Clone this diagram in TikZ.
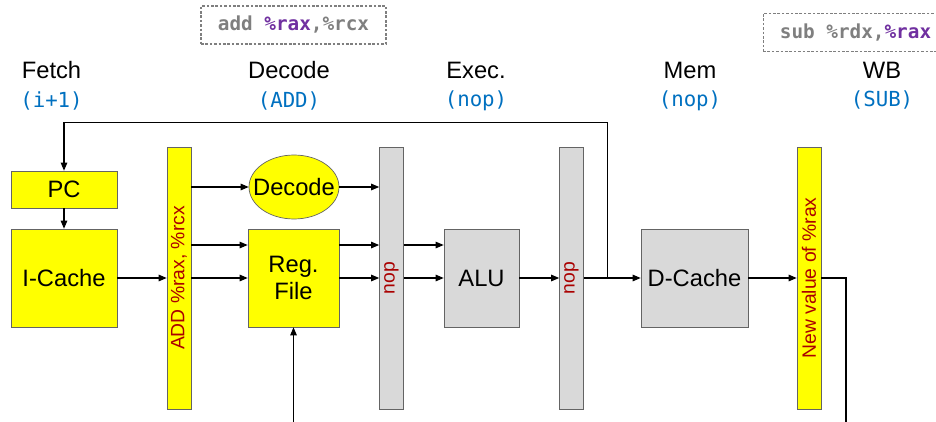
\documentclass[tikz,border=0pt]{standalone}
\usepackage{fontspec}
\setmainfont{Liberation Sans}
\newfontfamily\codefont{DejaVu Sans Mono}
\usetikzlibrary{positioning,arrows.meta,shapes.geometric,calc}

\definecolor{unityellow}{RGB}{255,255,0}
\definecolor{unitgray}{RGB}{217,217,217}
\definecolor{edgegray}{RGB}{100,100,100}
\definecolor{latchred}{RGB}{170,0,0}
\definecolor{opblue}{RGB}{0,112,192}
\definecolor{insngray}{RGB}{127,127,127}
\definecolor{insnpurple}{RGB}{112,48,160}

\begin{document}
\begin{tikzpicture}[
    x=0.02cm, y=-0.02cm,
    >={Triangle[length=1.6mm,width=1.3mm]},
    line width=0.6pt,
    every node/.style={font=\fontsize{13.5}{15}\selectfont},
    unit/.style ={draw=edgegray, thin, fill=unityellow, align=center, inner sep=0pt},
    gunit/.style={draw=edgegray, thin, fill=unitgray, align=center, inner sep=0pt},
    latch/.style={draw=edgegray, thin, minimum width=4.8mm, minimum height=52.4mm,
                  inner sep=0pt, text=latchred, font=\fontsize{11}{13}\selectfont},
    op/.style   ={text=opblue, font=\codefont\fontsize{11.8}{13}\selectfont},
    insn/.style ={draw=insngray, dash pattern=on 1.5pt off 1pt, minimum width=37mm,
                  minimum height=7.6mm, text=insngray,
                  font=\codefont\bfseries\fontsize{11}{13}\selectfont},
]
\useasboundingbox (0,0) rectangle (936,422);

% instructions in flight
\node[insn] (insnD) at (293.5,25)   {add \textcolor{insnpurple}{\%rax},\%rcx};
\node[insn] (insnW) at (855.5,32.5) {sub \%rdx,\textcolor{insnpurple}{\%rax}};

% stage headings
\node                        (fetch)   at (51.5,70) {Fetch};
\node[op, below=0mm of fetch] (fetchop)            {(i+1)};
\node                        (decode)  at (289,70)  {Decode};
\node[op, below=0mm of decode] (decodeop)          {(ADD)};
\node                        (exec)    at (476,70)  {Exec.};
\node[op, below=0mm of exec] (execop)              {(nop)};
\node                        (mem)     at (690,70)  {Mem};
\node[op, below=0mm of mem]  (memop)               {(nop)};
\node                        (wb)      at (882,70)  {WB};
\node[op, below=0mm of wb]   (wbop)                {(SUB)};

% datapath
\node[unit, minimum width=21.2mm, minimum height=7.4mm]  (pc)     at (64,189.5)  {PC};
\node[unit, minimum width=21.2mm, minimum height=19.6mm] (icache) at (64,278)    {I-Cache};
\node[latch, fill=unityellow] (ifid)  at (179,278)   {\rotatebox{90}{ADD \%rax, \%rcx}};
\node[unit, ellipse, minimum width=18mm, minimum height=12.8mm] (dec) at (294,187) {};
\node (dectext) at (dec) {Decode};
\node[unit, minimum width=18.2mm, minimum height=19.6mm] (rf)     at (293.5,278) {Reg.\\File};
\node[latch, fill=unitgray]   (idex)  at (391.5,278) {\rotatebox{90}{nop}};
\node[gunit, minimum width=15mm, minimum height=19.6mm]  (alu)    at (481.5,278) {ALU};
\node[latch, fill=unitgray]   (exmem) at (571.5,278) {\rotatebox{90}{nop}};
\node[gunit, minimum width=21.4mm, minimum height=19.6mm] (dc)    at (694.5,278) {D-Cache};
\node[latch, fill=unityellow] (memwb) at (809,278)   {\rotatebox{90}{New value of \%rax}};

\coordinate (tap)   at ($(exmem.east)!0.42!(dc.west)$);
\coordinate (wbout) at (846,422);
\coordinate (wbin)  at (293.5,422);

\draw[->] (pc.south) -- (icache.north);
\draw[->] (icache) -- (ifid);
\draw[->] (ifid.east |- dec) -- (dec);
\draw[->] (dec) -- (dec -| idex.west);
\draw[->] ([yshift=6.6mm]ifid.east) -- ([yshift=6.6mm]rf.west);
\draw[->] (ifid) -- (rf);
\draw[->] ([yshift=6.6mm]rf.east) -- ([yshift=6.6mm]idex.west);
\draw[->] (rf) -- (idex);
\draw[->] ([yshift=6.6mm]idex.east) -- ([yshift=6.6mm]alu.west);
\draw[->] (idex) -- (alu);
\draw[->] (alu) -- (exmem);
\draw[->] (exmem) -- (dc);
\draw[->] (dc) -- (memwb);

% next PC and write back
\draw[->] (tap) |- ([yshift=9.6mm]pc.north) -- (pc.north);
\draw     (memwb) -| (wbout);
\draw[->] (wbin) -- (rf);

\end{tikzpicture}
\end{document}
